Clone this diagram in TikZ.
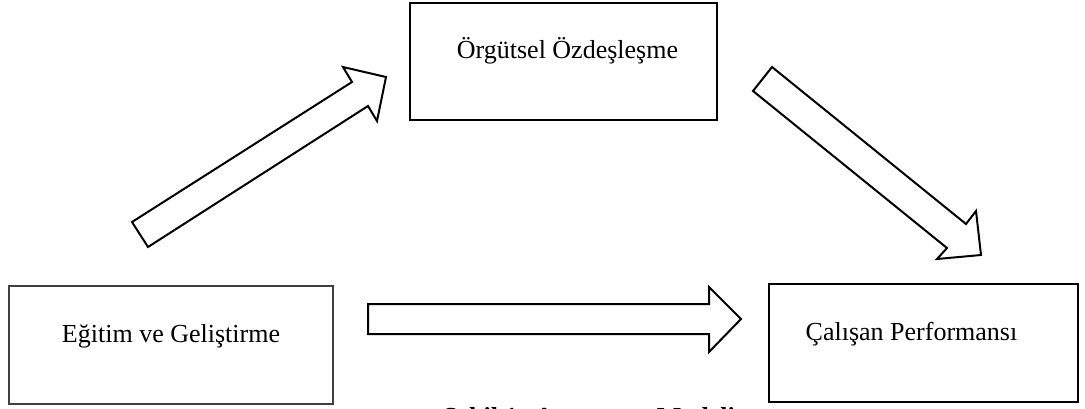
\documentclass[tikz,border=0pt]{standalone}
\usepackage{fontspec}
\setmainfont{Liberation Serif}
\begin{document}
\begin{tikzpicture}[x=1pt,y=-1pt,
  box/.style={draw=black,line width=2.6pt,fill=white,rectangle,inner sep=0pt,
    font=\fontsize{26}{30}\selectfont,text height=18pt,text depth=24pt},
  thinbox/.style={box,draw=black!75,line width=1.1pt},
  blockarrow/.style={draw=black,line width=2pt,fill=white,line join=miter}]
\useasboundingbox (0,0) rectangle (1085,408);
\path[clip] (0,0) rectangle (1085,408);
\fill[white] (0,0) rectangle (1085,408);
% boxes
\node[thinbox,minimum width=324pt,minimum height=118pt] (egitim) at (171,345) {Eğitim ve Geliştirme};
\node[box,minimum width=307pt,minimum height=117pt] (orgut) at (563.5,61.5) {\hspace*{8pt}Örgütsel Özdeşleşme};
\node[box,minimum width=309pt,minimum height=118pt] (calisan) at (923.5,343) {Çalışan Performansı\hspace*{24pt}};
% arrows
\draw[blockarrow] (368,304) -- (709,304) -- (709,287) -- (741,319) -- (709,352) -- (709,334) -- (368,334) -- cycle;
\draw[blockarrow] (132,222) -- (352,82) -- (343,67) -- (386,77) -- (377,121) -- (368,106) -- (148,247) -- cycle;
\draw[blockarrow] (772,67) -- (966,224) -- (976,211) -- (981,255) -- (937,259) -- (947,248) -- (753,91) -- cycle;
% caption (cut off at the bottom edge, as in the reference)
\node[anchor=base west,inner sep=0pt,font=\fontsize{26}{30}\selectfont\bfseries] (caption) at (443,425) {Şekil 1: Araştırma Modeli};
\end{tikzpicture}
\end{document}
